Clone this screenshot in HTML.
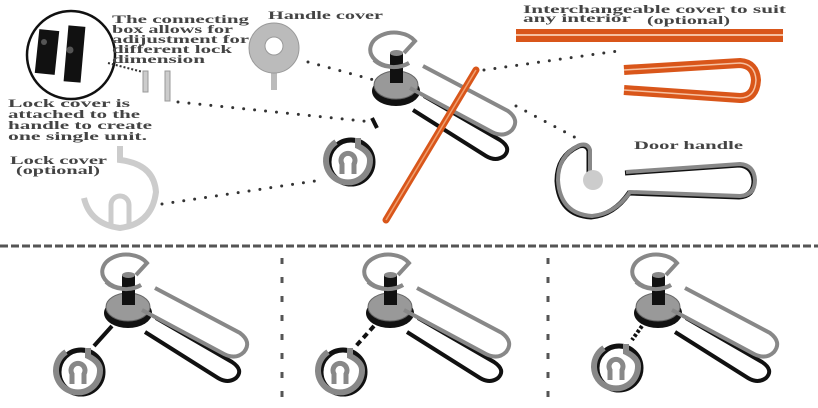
<!DOCTYPE html>
<html><head><meta charset="utf-8"><style>
html,body{margin:0;padding:0;background:#fff}
svg{display:block}
text{font-family:"Liberation Serif",serif;font-weight:bold;fill:#444;font-size:12px}
</style></head><body>
<svg width="818" height="408" viewBox="0 0 818 408" xmlns="http://www.w3.org/2000/svg">
<defs>
<g id="asm">
  <path d="M156 318 L232 362 Q244 370 236 378 Q228 384 218 378 L145 332" fill="none" stroke="#111" stroke-width="4"/>
  <ellipse cx="128" cy="313" rx="24" ry="15" fill="#111"/>
  <ellipse cx="128" cy="307" rx="22" ry="14" fill="#999" stroke="#666" stroke-width="1"/>
  <path d="M136 275 L147 263 A24 17 0 1 0 141 285" fill="none" stroke="#888" stroke-width="4"/>
  <rect x="122" y="275" width="13" height="30" fill="#111"/>
  <ellipse cx="128.5" cy="275" rx="6.5" ry="3" fill="#888"/>
  <path d="M106 282 A24 17 0 0 0 141 285" fill="none" stroke="#888" stroke-width="4"/>
  <path d="M155 288 L240 333 Q252 342 244 352 Q236 360 224 354 L142 310" fill="none" stroke="#888" stroke-width="4"/>
</g>
<g id="lock">
  <circle cx="81" cy="372" r="22" fill="none" stroke="#111" stroke-width="5"/>
  <path d="M88 348 L88 356 Q100 362 100 370 A22 22 0 1 1 66 352" fill="none" stroke="#888" stroke-width="6"/>
  <path d="M72 384 L72 374 A7 7 0 1 1 84 374 L84 384" fill="none" stroke="#888" stroke-width="5"/>
</g>
</defs>

<circle cx="71" cy="55" r="44" fill="#fff" stroke="#111" stroke-width="2.5"/>
<rect x="37" y="30" width="20" height="44" fill="#111" transform="rotate(6 47 52)"/>
<rect x="66" y="26" width="17" height="56" fill="#111" transform="rotate(5 74 54)"/>
<circle cx="44" cy="42" r="3" fill="#555"/><circle cx="70" cy="50" r="3.5" fill="#555"/>
<path d="M108 63 L143 72" stroke="#333" stroke-width="2" stroke-dasharray="2 2"/>
<rect x="143" y="71" width="5" height="21" fill="#ccc" stroke="#999"/>
<rect x="165" y="71" width="5" height="30" fill="#ccc" stroke="#999"/>

<text x="112" y="23" textLength="137" lengthAdjust="spacingAndGlyphs">The connecting</text>
<text x="112" y="33" textLength="121" lengthAdjust="spacingAndGlyphs">box allows for</text>
<text x="112" y="43" textLength="137" lengthAdjust="spacingAndGlyphs">adijustment for</text>
<text x="112" y="53" textLength="120" lengthAdjust="spacingAndGlyphs">different lock</text>
<text x="112" y="63" textLength="93" lengthAdjust="spacingAndGlyphs">dimension</text>
<text x="8" y="107" textLength="122" lengthAdjust="spacingAndGlyphs">Lock cover is</text>
<text x="8" y="118" textLength="132" lengthAdjust="spacingAndGlyphs">attached to the</text>
<text x="8" y="129" textLength="144" lengthAdjust="spacingAndGlyphs">handle to create</text>
<text x="8" y="140" textLength="139" lengthAdjust="spacingAndGlyphs">one single unit.</text>
<text x="10" y="164" textLength="97" lengthAdjust="spacingAndGlyphs">Lock cover</text>
<text x="16" y="174" textLength="84" lengthAdjust="spacingAndGlyphs">(optional)</text>
<text x="268" y="19" textLength="115" lengthAdjust="spacingAndGlyphs">Handle cover</text>
<text x="523" y="13" textLength="263" lengthAdjust="spacingAndGlyphs">Interchangeable cover to suit</text>
<text x="523" y="22" textLength="108" lengthAdjust="spacingAndGlyphs">any interior</text>
<text x="647" y="24" textLength="83" lengthAdjust="spacingAndGlyphs">(optional)</text>
<text x="634" y="149" textLength="109" lengthAdjust="spacingAndGlyphs">Door handle</text>

<rect x="271" y="70" width="6" height="20" fill="#bbb"/>
<circle cx="274" cy="48" r="25" fill="#bbb" stroke="#999"/>
<circle cx="274" cy="46" r="9" fill="#fff" stroke="#999"/>

<path d="M120 146 L120 160 Q154 164 156 192 Q152 224 120 228 Q90 224 84 198" fill="none" stroke="#ccc" stroke-width="6"/>
<path d="M111 226 L111 205 A9 9 0 1 1 129 205 L129 226" fill="none" stroke="#ccc" stroke-width="5"/>

<g stroke="#333" stroke-width="3" stroke-linecap="round" stroke-dasharray="0 11" fill="none">
<path d="M308 62 L374 80"/>
<path d="M178 102 L372 122"/>
<path d="M162 204 L322 180"/>
<path d="M484 70 L625 50"/>
<path d="M516 106 L580 140"/>
</g>

<use href="#asm" transform="translate(268 -222)"/>
<line x1="377" y1="128" x2="372" y2="118" stroke="#111" stroke-width="4"/>
<use href="#lock" transform="translate(270 -210)"/>
<line x1="476" y1="70" x2="386" y2="220" stroke="#d9561a" stroke-width="7" stroke-linecap="round"/>
<line x1="476" y1="70" x2="386" y2="220" stroke="#f0a070" stroke-width="1.5"/>

<rect x="516" y="29" width="267" height="13" fill="#d9561a"/>
<rect x="516" y="34" width="267" height="2" fill="#f6c0a0"/>
<path d="M624 70 L740 63 Q755 64 756 80 Q755 98 740 98 L624 90" fill="none" stroke="#d9561a" stroke-width="10"/>
<path d="M624 70 L740 63 Q755 64 756 80 Q755 98 740 98 L624 90" fill="none" stroke="#f6c0a0" stroke-width="1.5"/>

<path d="M590 172 L590 150 Q588 143 580 145 Q558 155 558 180 Q560 214 592 216 Q615 214 630 192 L740 196 Q755 195 755 180 Q754 165 740 164 L626 172" fill="none" stroke="#111" stroke-width="5" transform="translate(-1 1)"/>
<path d="M590 172 L590 150 Q588 143 580 145 Q558 155 558 180 Q560 214 592 216 Q615 214 630 192 L740 196 Q755 195 755 180 Q754 165 740 164 L626 172" fill="none" stroke="#888" stroke-width="4"/>
<circle cx="593" cy="180" r="10" fill="#ccc"/>

<line x1="0" y1="246" x2="818" y2="246" stroke="#555" stroke-width="3" stroke-dasharray="8 3"/>
<line x1="282" y1="258" x2="282" y2="400" stroke="#555" stroke-width="3" stroke-dasharray="6 13"/>
<line x1="548" y1="258" x2="548" y2="400" stroke="#555" stroke-width="3" stroke-dasharray="6 13"/>

<g>
<use href="#asm"/><use href="#lock"/>
<path d="M112 326 L94 346" stroke="#111" stroke-width="4" fill="none"/>
</g>
<g transform="translate(262 0)">
<use href="#asm"/><use href="#lock"/>
<path d="M112 326 L94 346" stroke="#111" stroke-width="4" stroke-dasharray="6 4" fill="none"/>
</g>
<g transform="translate(530 0)">
<use href="#asm"/><use href="#lock" transform="translate(8 -4)"/>
<path d="M112 326 L102 340" stroke="#111" stroke-width="4" stroke-dasharray="3 2" fill="none"/>
</g>
</svg>
</body></html>
